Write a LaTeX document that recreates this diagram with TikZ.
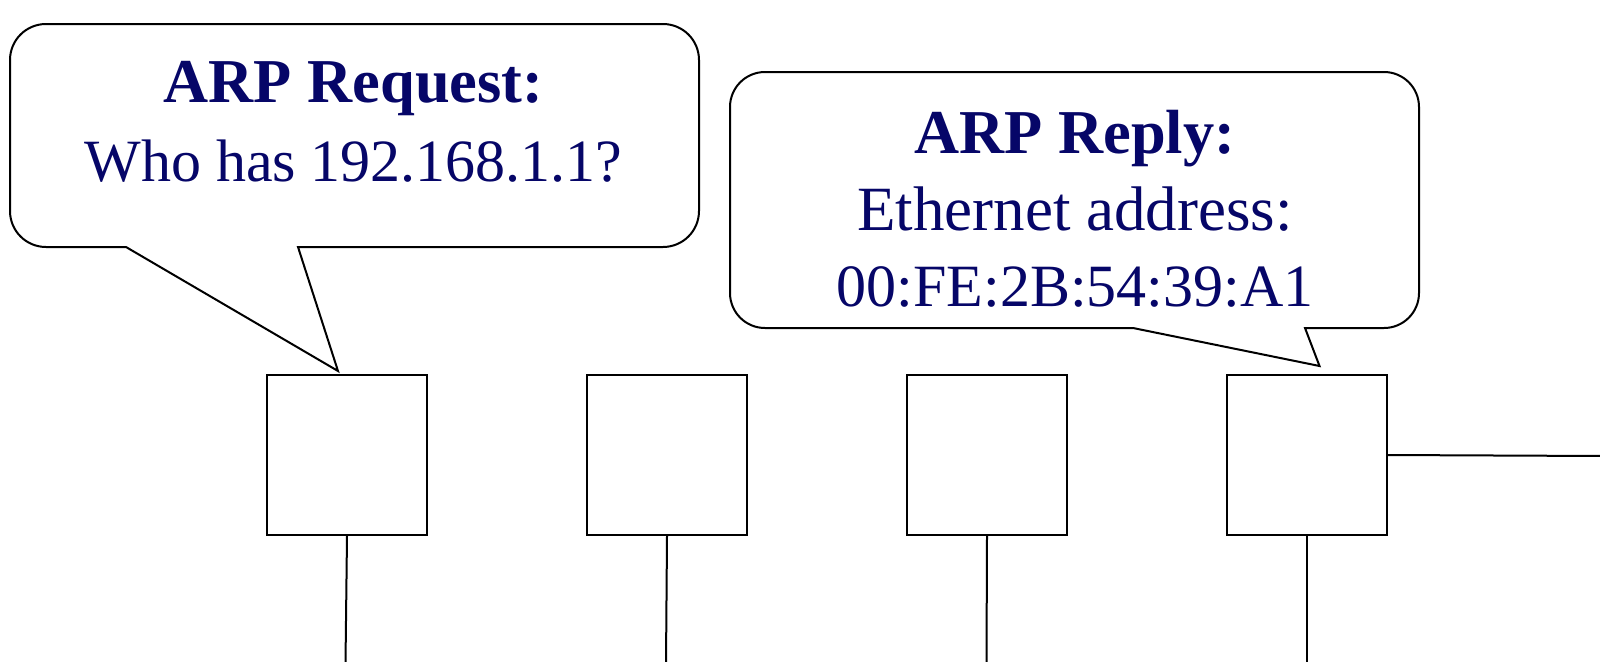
\documentclass[tikz,border=0pt]{standalone}
\usepackage{fontspec}
\setmainfont{Liberation Serif}
\definecolor{arpblue}{RGB}{6,6,104}
\begin{document}
\begin{tikzpicture}[x=0.5pt,y=0.5pt,
  hostbox/.style={draw=black,line width=1pt,minimum width=80pt,minimum height=80pt,inner sep=0pt,fill=white},
  bubble/.style={draw=black,line width=1pt,fill=white,line join=miter},
  wire/.style={draw=black,line width=1pt},
  ttl/.style={text=arpblue,font=\fontsize{31.2}{36}\selectfont\bfseries,anchor=base,inner sep=0pt},
  txt/.style={text=arpblue,font=\fontsize{30}{36}\selectfont,anchor=base,inner sep=0pt}]
\useasboundingbox (0,0) rectangle (1600,661);

% hosts
\node[hostbox] (h1) at (347,206) {};
\node[hostbox] (h2) at (667,206) {};
\node[hostbox] (h3) at (987,206) {};
\node[hostbox] (h4) at (1307,206) {};

% wires to the bottom
\coordinate (b1) at (345.5,-2);
\coordinate (b2) at (666,-2);
\coordinate (b3) at (986.5,-2);
\coordinate (b4) at (1307,-2);
\coordinate (r4) at (1602,205);
\draw[wire] (h1.south) -- (b1);
\draw[wire] (h2.south) -- (b2);
\draw[wire] (h3.south) -- (b3);
\draw[wire] (h4.south) -- (b4);
\draw[wire] (h4.east) -- (r4);

% request bubble
\draw[bubble] (126,414) -- (338,290) -- (298,414) -- (663,414)
  arc[start angle=-90,end angle=0,radius=18pt] -- (699,601)
  arc[start angle=0,end angle=90,radius=18pt] -- (46,637)
  arc[start angle=90,end angle=180,radius=18pt] -- (10,450)
  arc[start angle=180,end angle=270,radius=18pt] -- cycle;
\node[ttl] (req1) at (353.5,559) {ARP Request:};
\node[txt] (req2) at (353.5,480) {Who has 192.168.1.1?};

% reply bubble
\draw[bubble] (1133,333) -- (1319.5,295) -- (1305,333) -- (1384,333)
  arc[start angle=-90,end angle=0,radius=17.5pt] -- (1419,554)
  arc[start angle=0,end angle=90,radius=17.5pt] -- (765,589)
  arc[start angle=90,end angle=180,radius=17.5pt] -- (730,368)
  arc[start angle=180,end angle=270,radius=17.5pt] -- cycle;
\node[ttl] (rep1) at (1075,508) {ARP Reply:};
\node[txt,font=\fontsize{31.5}{36}\selectfont] (rep2) at (1075,431) {Ethernet address:};
\node[txt] (rep3) at (1075,355) {00:FE:2B:54:39:A1};
\end{tikzpicture}
\end{document}
